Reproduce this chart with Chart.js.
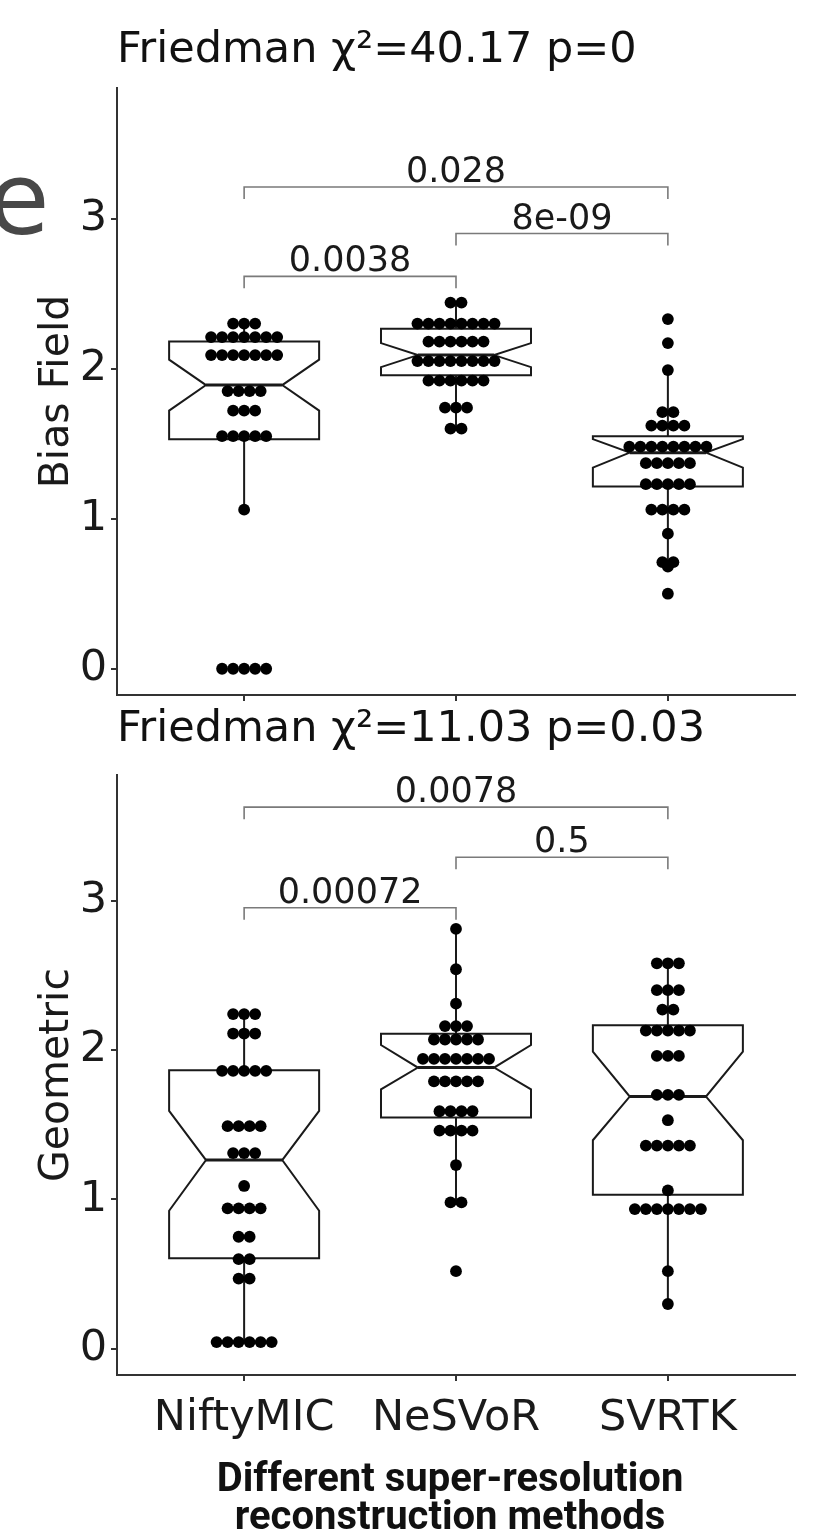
<!DOCTYPE html>
<html>
<head>
<meta charset="utf-8">
<script src="https://cdn.jsdelivr.net/npm/chart.js@4.4.1/dist/chart.umd.min.js"></script>
<style>
  html, body { margin: 0; padding: 0; background: #fff; }
  body { width: 828px; height: 1529px; position: relative; overflow: hidden; }
  .panel { position: absolute; left: 0; width: 828px; }
  #topPanel { top: 0; height: 725px; }
  #bottomPanel { top: 700px; height: 755px; }
  #edge { position: absolute; left: -12px; top: 150px; font: 100px 'DejaVu Sans'; line-height: 1; color: #484848; }
  #footer { position: absolute; left: 0; width: 900px; top: 1459px; text-align: center;
            font: 700 40px Roboto; line-height: 38px; color: #111; }
</style>
</head>
<body>
<div id="edge">e</div>
<div class="panel" id="topPanel"><canvas id="biasChart"></canvas></div>
<div class="panel" id="bottomPanel"><canvas id="geoChart"></canvas></div>
<div id="footer">Different super-resolution<br>reconstruction methods</div>
<script>
// categories and axis ticks
const methods = ['NiftyMIC', 'NeSVoR', 'SVRTK'];
const yTicks = [0, 1, 2, 3];

// Bias Field scores, one entry per case (equal values stack side by side)
const biasNifty = [2.30, 2.30, 2.30, 2.21, 2.21, 2.21, 2.21, 2.21, 2.21, 2.21,
  2.09, 2.09, 2.09, 2.09, 2.09, 2.09, 2.09, 1.85, 1.85, 1.85, 1.85,
  1.72, 1.72, 1.72, 1.55, 1.55, 1.55, 1.55, 1.55, 1.06, 0, 0, 0, 0, 0];
const biasNesvor = [2.44, 2.44, 2.30, 2.30, 2.30, 2.30, 2.30, 2.30, 2.30, 2.30,
  2.18, 2.18, 2.18, 2.18, 2.18, 2.18, 2.05, 2.05, 2.05, 2.05, 2.05, 2.05, 2.05, 2.05,
  1.92, 1.92, 1.92, 1.92, 1.92, 1.92, 1.74, 1.74, 1.74, 1.60, 1.60];
const biasSvrtk = [2.33, 2.17, 1.99, 1.71, 1.71, 1.62, 1.62, 1.62, 1.62,
  1.48, 1.48, 1.48, 1.48, 1.48, 1.48, 1.48, 1.48, 1.37, 1.37, 1.37, 1.37, 1.37,
  1.23, 1.23, 1.23, 1.23, 1.23, 1.06, 1.06, 1.06, 1.06, 0.90, 0.71, 0.71, 0.68, 0.50];

// Geometric scores
const geoNifty = [2.24, 2.24, 2.24, 2.11, 2.11, 2.11, 1.86, 1.86, 1.86, 1.86, 1.86,
  1.49, 1.49, 1.49, 1.49, 1.31, 1.31, 1.31, 1.09, 0.94, 0.94, 0.94, 0.94,
  0.75, 0.75, 0.60, 0.60, 0.47, 0.47, 0.045, 0.045, 0.045, 0.045, 0.045, 0.045];
const geoNesvor = [2.81, 2.54, 2.31, 2.16, 2.16, 2.16, 2.07, 2.07, 2.07, 2.07, 2.07,
  1.94, 1.94, 1.94, 1.94, 1.94, 1.94, 1.94, 1.79, 1.79, 1.79, 1.79, 1.79,
  1.59, 1.59, 1.59, 1.59, 1.46, 1.46, 1.46, 1.46, 1.23, 0.98, 0.98, 0.52];
const geoSvrtk = [2.58, 2.58, 2.58, 2.40, 2.40, 2.40, 2.27, 2.27,
  2.13, 2.13, 2.13, 2.13, 2.13, 1.96, 1.96, 1.96, 1.70, 1.70, 1.70, 1.53,
  1.36, 1.36, 1.36, 1.36, 1.36, 1.06, 0.935, 0.935, 0.935, 0.935, 0.935, 0.935, 0.935,
  0.52, 0.30];

// box statistics per method (NiftyMIC, NeSVoR, SVRTK)
const biasQ1 = [1.53, 1.955, 1.215];
const biasMedian = [1.89, 2.09, 1.44];
const biasQ3 = [2.18, 2.265, 1.55];
const biasNotchLo = [1.72, 2.01, 1.34];
const biasNotchHi = [2.06, 2.17, 1.53];
const biasWhiskLo = [1.06, 1.60, 0.69];
const biasWhiskHi = [2.30, 2.44, 1.99];

const geoQ1 = [0.606, 1.548, 1.031];
const geoMedian = [1.263, 1.882, 1.688];
const geoQ3 = [1.864, 2.109, 2.165];
const geoNotchLo = [0.924, 1.737, 1.396];
const geoNotchHi = [1.592, 2.033, 1.989];
const geoWhiskLo = [0.045, 0.976, 0.296];
const geoWhiskHi = [2.243, 2.806, 2.577];

// pairwise comparisons: [from, to] method index (1-based), bracket height, p value
const biasPairs = [[1, 3], [2, 3], [1, 2]];
const biasPairY = [3.21, 2.90, 2.615];
const biasPairP = ['0.028', '8e-09', '0.0038'];
const geoPairs = [[1, 3], [2, 3], [1, 2]];
const geoPairY = [3.625, 3.29, 2.952];
const geoPairP = ['0.0078', '0.5', '0.00072'];

const FONT = 'DejaVu Sans';
const INK = '#1a1a1a';
const DOT_STEP = 0.052;   // x distance between neighbouring dots of a row
const BOX_HALF = 0.354;
const NOTCH_HALF = 0.18;

Chart.defaults.font.family = FONT;
Chart.defaults.color = INK;

// lay the dots of one method out in centred rows of equal values
function swarm(values, cat) {
  const rows = new Map();
  values.forEach(v => rows.set(v, (rows.get(v) || 0) + 1));
  const pts = [];
  rows.forEach((n, v) => {
    for (let i = 0; i < n; i++) {
      pts.push({ x: cat + (i - (n - 1) / 2) * DOT_STEP, y: v });
    }
  });
  return pts;
}

const notchedBoxes = {
  id: 'notchedBoxes',
  beforeDatasetsDraw(chart, args, s) {
    const { ctx, scales: { x, y } } = chart;
    ctx.save();
    ctx.strokeStyle = INK;
    ctx.lineJoin = 'miter';
    methods.forEach((m, i) => {
      const c = i + 1;
      const xc = x.getPixelForValue(c);
      const xl = x.getPixelForValue(c - BOX_HALF), xr = x.getPixelForValue(c + BOX_HALF);
      const nl = x.getPixelForValue(c - NOTCH_HALF), nr = x.getPixelForValue(c + NOTCH_HALF);
      const q1 = y.getPixelForValue(s.q1[i]), q3 = y.getPixelForValue(s.q3[i]);
      const med = y.getPixelForValue(s.median[i]);
      const lo = y.getPixelForValue(s.notchLo[i]), hi = y.getPixelForValue(s.notchHi[i]);

      // whiskers
      ctx.lineWidth = 2;
      ctx.beginPath();
      ctx.moveTo(xc, y.getPixelForValue(s.whiskHi[i]));
      ctx.lineTo(xc, q3);
      ctx.moveTo(xc, q1);
      ctx.lineTo(xc, y.getPixelForValue(s.whiskLo[i]));
      ctx.stroke();

      // notched box
      ctx.beginPath();
      ctx.moveTo(xl, q3);
      ctx.lineTo(xr, q3);
      ctx.lineTo(xr, hi);
      ctx.lineTo(nr, med);
      ctx.lineTo(xr, lo);
      ctx.lineTo(xr, q1);
      ctx.lineTo(xl, q1);
      ctx.lineTo(xl, lo);
      ctx.lineTo(nl, med);
      ctx.lineTo(xl, hi);
      ctx.closePath();
      ctx.fillStyle = '#fff';
      ctx.fill();
      ctx.stroke();

      // median
      ctx.lineWidth = 3;
      ctx.beginPath();
      ctx.moveTo(nl, med);
      ctx.lineTo(nr, med);
      ctx.stroke();
    });
    ctx.restore();
  }
};

const brackets = {
  id: 'brackets',
  afterDatasetsDraw(chart, args, o) {
    const { ctx, scales: { x, y } } = chart;
    ctx.save();
    ctx.strokeStyle = '#7a7a7a';
    ctx.lineWidth = 1.6;
    ctx.fillStyle = INK;
    ctx.font = '35px ' + FONT;
    ctx.textAlign = 'center';
    ctx.textBaseline = 'alphabetic';
    o.pairs.forEach((p, i) => {
      const x1 = x.getPixelForValue(p[0]), x2 = x.getPixelForValue(p[1]);
      const py = y.getPixelForValue(o.levels[i]);
      ctx.beginPath();
      ctx.moveTo(x1, py + 12);
      ctx.lineTo(x1, py);
      ctx.lineTo(x2, py);
      ctx.lineTo(x2, py + 12);
      ctx.stroke();
      ctx.fillText(o.labels[i], (x1 + x2) / 2, py - 5);
    });
    ctx.restore();
  }
};

function makePanel(canvasId, cfg) {
  const points = [
    ...swarm(cfg.dots[0], 1), ...swarm(cfg.dots[1], 2), ...swarm(cfg.dots[2], 3)
  ];
  return new Chart(document.getElementById(canvasId), {
    type: 'scatter',
    data: {
      datasets: [{
        data: points,
        pointRadius: 5.9,
        pointBorderWidth: 0,
        backgroundColor: '#000',
        pointHoverRadius: 5.9
      }]
    },
    options: {
      responsive: true,
      maintainAspectRatio: false,
      animation: false,
      events: [],
      layout: { padding: { left: 0, right: 33, top: 0, bottom: 0 } },
      scales: {
        x: {
          type: 'linear',
          min: 0.4,
          max: 3.6,
          afterBuildTicks: s => { s.ticks = [1, 2, 3].map(v => ({ value: v })); },
          afterFit: s => { s.height = cfg.xHeight; },
          grid: { drawOnChartArea: false, drawTicks: true, tickLength: 6, color: '#333', lineWidth: 2 },
          border: { display: true, color: '#333', width: 2 },
          ticks: {
            display: cfg.showX,
            autoSkip: false,
            maxRotation: 0,
            padding: 12,
            color: INK,
            font: { family: FONT, size: 43 },
            callback: v => methods[v - 1]
          }
        },
        y: {
          min: -0.175,
          max: cfg.yMax,
          afterBuildTicks: s => { s.ticks = yTicks.map(v => ({ value: v })); },
          afterFit: s => { s.width = 117; },
          grid: { drawOnChartArea: false, drawTicks: true, tickLength: 6, color: '#333', lineWidth: 2 },
          border: { display: true, color: '#333', width: 2 },
          ticks: { padding: 4, color: INK, font: { family: FONT, size: 43 } },
          title: {
            display: true,
            text: cfg.yTitle,
            color: INK,
            font: { family: FONT, size: 41, lineHeight: 1.2 },
            padding: { top: 33, bottom: 0 }
          }
        }
      },
      plugins: {
        legend: { display: false },
        tooltip: { enabled: false },
        title: {
          display: true,
          text: cfg.title,
          align: 'start',
          fullSize: false,
          color: '#111',
          font: { family: FONT, size: 43, lineHeight: 1.2, weight: 'normal' },
          padding: cfg.titlePad
        },
        notchedBoxes: cfg.stats,
        brackets: cfg.brackets
      }
    },
    plugins: [notchedBoxes, brackets]
  });
}

// top canvas is 725 tall: the y tick labels need ~30px under the plot area
makePanel('biasChart', {
  title: 'Friedman \u03c7\u00b2=40.17 p=0',
  titlePad: { top: 25, bottom: 11.4 },
  yTitle: 'Bias Field',
  yMax: 3.87,
  showX: false,
  xHeight: 30,
  dots: [biasNifty, biasNesvor, biasSvrtk],
  stats: { q1: biasQ1, median: biasMedian, q3: biasQ3, notchLo: biasNotchLo,
           notchHi: biasNotchHi, whiskLo: biasWhiskLo, whiskHi: biasWhiskHi },
  brackets: { pairs: biasPairs, levels: biasPairY, labels: biasPairP }
});

makePanel('geoChart', {
  title: 'Friedman \u03c7\u00b2=11.03 p=0.03',
  titlePad: { top: 4.2, bottom: 19.2 },
  yTitle: 'Geometric',
  yMax: 3.84,
  showX: true,
  xHeight: 80,
  dots: [geoNifty, geoNesvor, geoSvrtk],
  stats: { q1: geoQ1, median: geoMedian, q3: geoQ3, notchLo: geoNotchLo,
           notchHi: geoNotchHi, whiskLo: geoWhiskLo, whiskHi: geoWhiskHi },
  brackets: { pairs: geoPairs, levels: geoPairY, labels: geoPairP }
});
</script>
</body>
</html>
